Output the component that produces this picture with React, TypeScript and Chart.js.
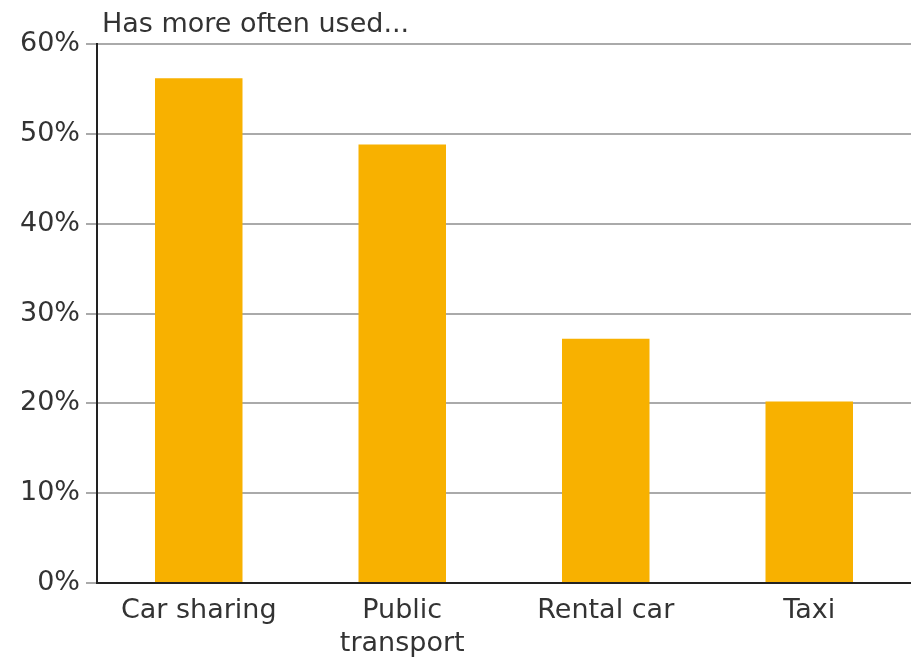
import React, { useEffect, useRef } from "react";
import { Chart, registerables } from "chart.js";

Chart.register(...registerables);

const categories: (string | string[])[] = ["Car sharing", ["Public", "transport"], "Rental car", "Taxi"];
const values: number[] = [56.2, 48.8, 27.2, 20.2];
const yTicks: number[] = [0, 10, 20, 30, 40, 50, 60];
const chartTitle = "Has more often used...";

const FONT = "'DejaVu Sans', sans-serif";
const TEXT = "#333333";

const titlePlugin = {
  id: "topTitle",
  afterDraw(chart: any) {
    const ctx = chart.ctx;
    ctx.save();
    ctx.font = `27px ${FONT}`;
    ctx.fillStyle = TEXT;
    ctx.textAlign = "left";
    ctx.textBaseline = "alphabetic";
    ctx.fillText(chartTitle, chart.chartArea.left + 5, 32);
    ctx.restore();
  },
};

export default function App() {
  const ref = useRef<HTMLCanvasElement>(null);
  useEffect(() => {
    document.body.style.margin = "0";
    const chart = new Chart(ref.current!, {
      type: "bar",
      data: {
        labels: categories,
        datasets: [
          {
            data: values,
            backgroundColor: "#F8B100",
            borderWidth: 0,
            categoryPercentage: 1,
            barPercentage: 0.43,
          },
        ],
      },
      options: {
        animation: false,
        responsive: false,
        layout: { padding: { top: 44, right: 0, left: 0, bottom: 0 } },
        plugins: { legend: { display: false }, tooltip: { enabled: false } },
        scales: {
          x: {
            grid: { display: false },
            border: { display: true, color: "#222222", width: 2 },
            ticks: {
              color: TEXT,
              font: { family: FONT, size: 27, lineHeight: 1.2 },
              padding: 4,
              maxRotation: 0,
              autoSkip: false,
            },
            afterFit(scale: any) {
              scale.height = 75;
            },
          },
          y: {
            min: 0,
            max: 60,
            afterBuildTicks(scale: any) {
              scale.ticks = yTicks.map((v) => ({ value: v }));
            },
            grid: {
              color: "#AAAAAA",
              lineWidth: 2,
              tickLength: 11,
              drawTicks: true,
            },
            border: { display: true, color: "#222222", width: 2 },
            ticks: {
              color: TEXT,
              font: { family: FONT, size: 27 },
              padding: 6,
              callback: (v: any) => `${v}%`,
            },
            afterFit(scale: any) {
              scale.width = 97;
            },
          },
        },
      },
      plugins: [titlePlugin],
    });
    return () => chart.destroy();
  }, []);
  return (
    <div style={{ position: "fixed", left: 0, top: 0, width: 911, height: 658 }}>
      <canvas ref={ref} width={911} height={658} style={{ display: "block" }} />
    </div>
  );
}
